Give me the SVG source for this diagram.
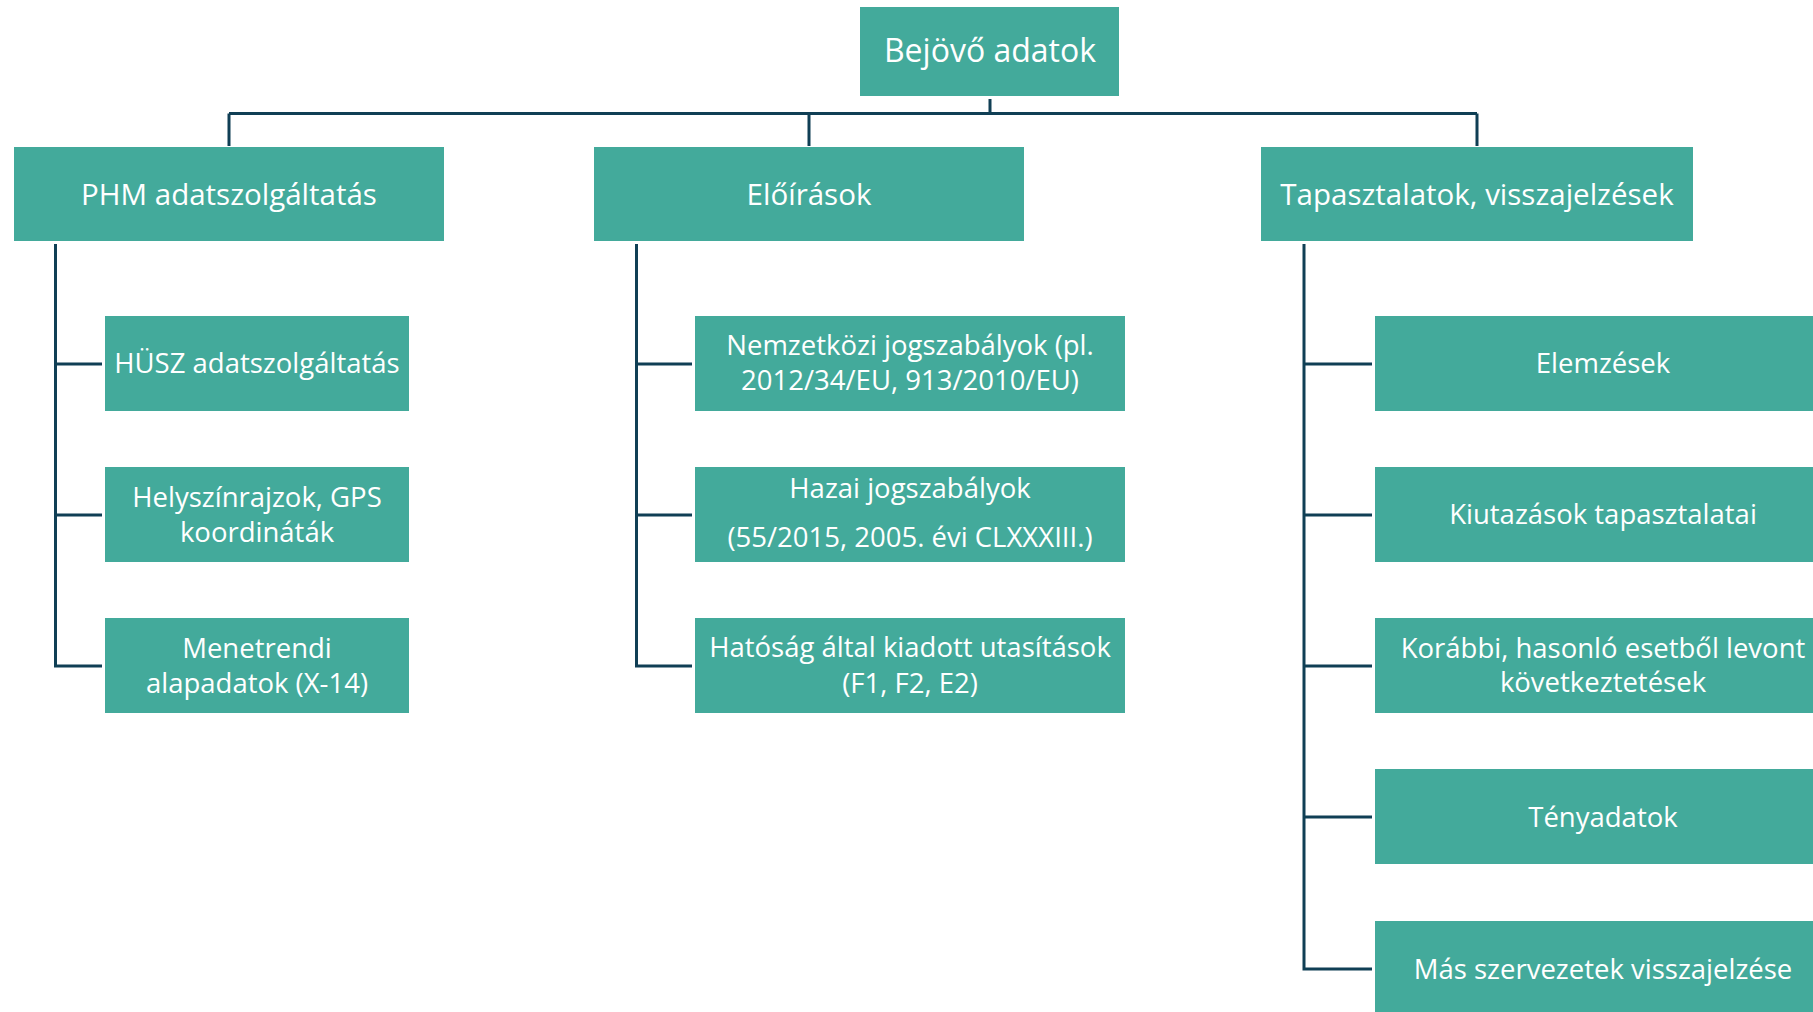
<svg xmlns="http://www.w3.org/2000/svg" width="1813" height="1012" viewBox="0 0 1813 1012">
<style>
.box{fill:#43AA9B;}
.t{font-family:"Open Sans","Noto Sans","DejaVu Sans",sans-serif;fill:#FFFFFF;text-anchor:middle;}
.t0{font-size:32px;}
.t1{font-size:29.5px;}
.t2{font-size:27.5px;}
.ln{fill:none;stroke:#103F55;stroke-width:3;}
</style>
<rect x="0" y="0" width="1813" height="1012" fill="#FFFFFF"/>
<g id="connectors">
<path class="ln" d="M990 99 V113.5 M229 113.5 H1477 M229 113.5 V146 M809 113.5 V146 M1477 113.5 V146"/>
<path class="ln" d="M55.5 244 V666 H102 M55.5 364 H102 M55.5 515 H102"/>
<path class="ln" d="M636.5 244 V666 H692 M636.5 364 H692 M636.5 515 H692"/>
<path class="ln" d="M1304 244 V969 H1372 M1304 364 H1372 M1304 515 H1372 M1304 666 H1372 M1304 817 H1372"/>
</g>
<g id="root">
<rect class="box" x="860" y="7" width="259" height="89"/>
<text class="t t0" x="990" y="62">Bejövő adatok</text>
</g>
<g id="phm">
<rect class="box" x="14" y="147" width="430" height="94"/>
<text class="t t1" x="229" y="204.5">PHM adatszolgáltatás</text>
</g>
<g id="eloirasok">
<rect class="box" x="594" y="147" width="430" height="94"/>
<text class="t t1" x="809" y="204.5">Előírások</text>
</g>
<g id="tapasztalatok">
<rect class="box" x="1261" y="147" width="432" height="94"/>
<text class="t t1" x="1477" y="204.5">Tapasztalatok, visszajelzések</text>
</g>
<g id="husz">
<rect class="box" x="105" y="316" width="304" height="95"/>
<text class="t t2" x="257" y="373">HÜSZ adatszolgáltatás</text>
</g>
<g id="helyszin">
<rect class="box" x="105" y="467" width="304" height="95"/>
<text class="t t2" x="257" y="507">Helyszínrajzok, GPS</text>
<text class="t t2" x="257" y="542">koordináták</text>
</g>
<g id="menetrendi">
<rect class="box" x="105" y="618" width="304" height="95"/>
<text class="t t2" x="257" y="658">Menetrendi</text>
<text class="t t2" x="257" y="693">alapadatok (X-14)</text>
</g>
<g id="nemzetkozi">
<rect class="box" x="695" y="316" width="430" height="95"/>
<text class="t t2" x="910" y="355">Nemzetközi jogszabályok (pl.</text>
<text class="t t2" x="910" y="390">2012/34/EU, 913/2010/EU)</text>
</g>
<g id="hazai">
<rect class="box" x="695" y="467" width="430" height="95"/>
<text class="t t2" x="910" y="498">Hazai jogszabályok</text>
<text class="t t2" x="910" y="547">(55/2015, 2005. évi CLXXXIII.)</text>
</g>
<g id="hatosag">
<rect class="box" x="695" y="618" width="430" height="95"/>
<text class="t t2" x="910" y="657">Hatóság által kiadott utasítások</text>
<text class="t t2" x="910" y="693">(F1, F2, E2)</text>
</g>
<g id="elemzesek">
<rect class="box" x="1375" y="316" width="456" height="95"/>
<text class="t t2" x="1603" y="373">Elemzések</text>
</g>
<g id="kiutazasok">
<rect class="box" x="1375" y="467" width="456" height="95"/>
<text class="t t2" x="1603" y="524">Kiutazások tapasztalatai</text>
</g>
<g id="korabbi">
<rect class="box" x="1375" y="618" width="456" height="95"/>
<text class="t t2" x="1603" y="658">Korábbi, hasonló esetből levont</text>
<text class="t t2" x="1603" y="692">következtetések</text>
</g>
<g id="tenyadatok">
<rect class="box" x="1375" y="769" width="456" height="95"/>
<text class="t t2" x="1603" y="827">Tényadatok</text>
</g>
<g id="mas">
<rect class="box" x="1375" y="921" width="456" height="95"/>
<text class="t t2" x="1603" y="979">Más szervezetek visszajelzése</text>
</g>
</svg>
